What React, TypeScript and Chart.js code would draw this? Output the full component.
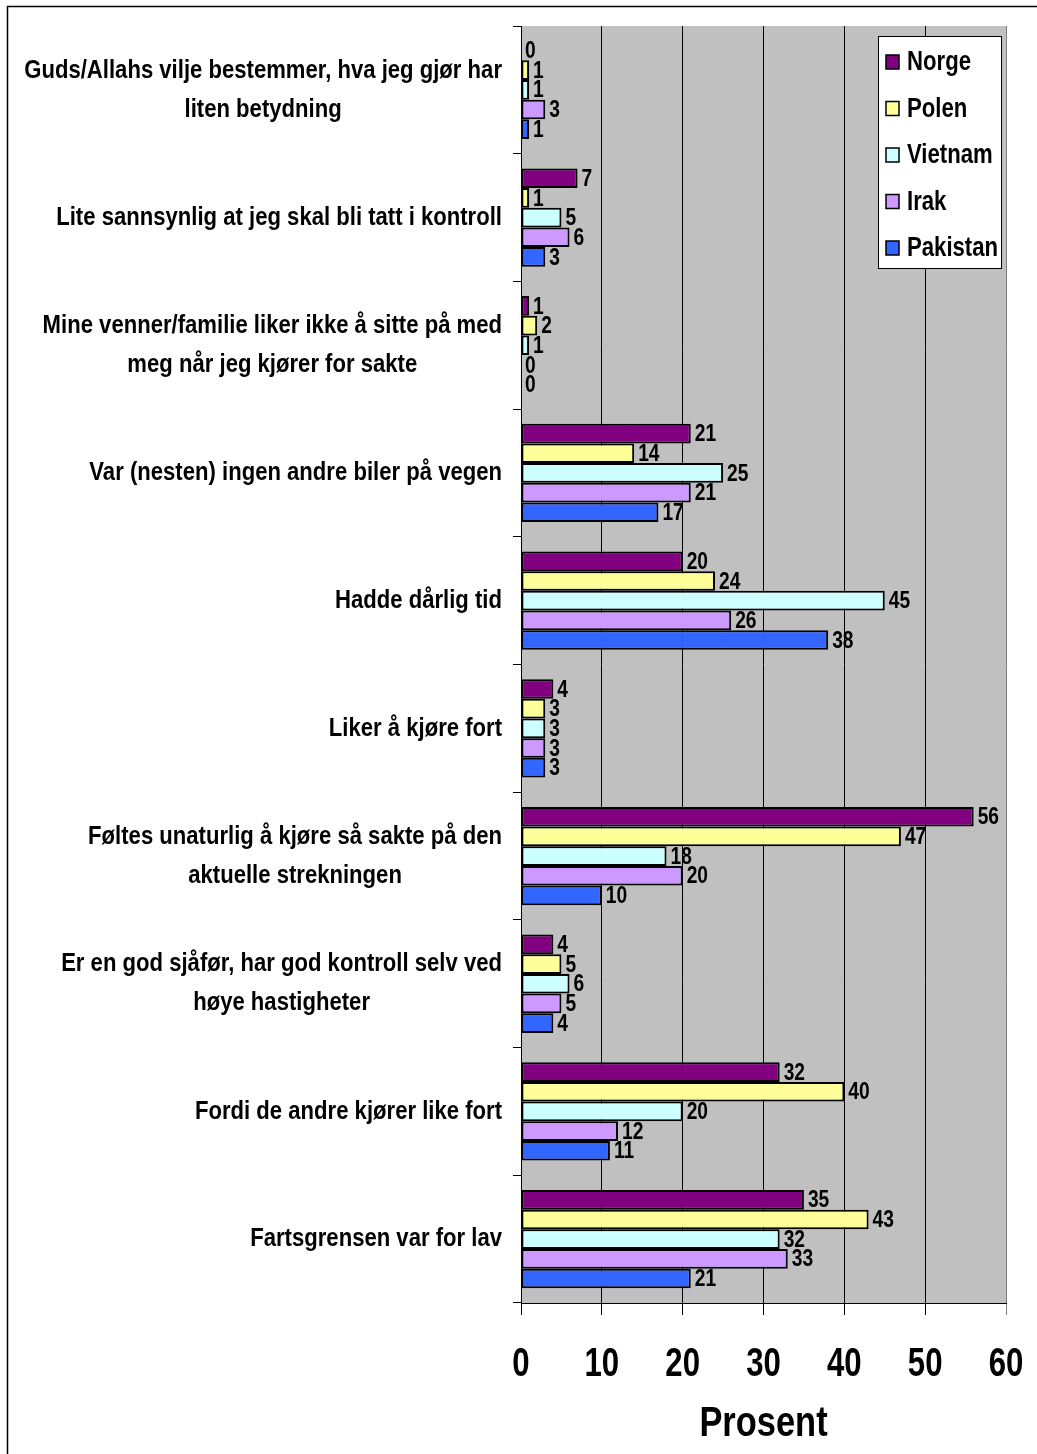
import React, { useEffect, useRef } from "react";
import { Chart, registerables } from "chart.js";

Chart.register(...registerables);

const categories: string[][] = [
  ["Guds/Allahs vilje bestemmer, hva jeg gjør har", "liten betydning"],
  ["Lite sannsynlig at jeg skal bli tatt i kontroll"],
  ["Mine venner/familie liker ikke å sitte på med", "meg når jeg kjører for sakte"],
  ["Var (nesten) ingen andre biler på vegen"],
  ["Hadde dårlig tid"],
  ["Liker å kjøre fort"],
  ["Føltes unaturlig å kjøre så sakte på den", "aktuelle strekningen"],
  ["Er en god sjåfør, har god kontroll selv ved", "høye hastigheter"],
  ["Fordi de andre kjører like fort"],
  ["Fartsgrensen var for lav"],
];

const seriesNames = ["Norge", "Polen", "Vietnam", "Irak", "Pakistan"];
const norge = [0, 7, 1, 21, 20, 4, 56, 4, 32, 35];
const polen = [1, 1, 2, 14, 24, 3, 47, 5, 40, 43];
const vietnam = [1, 5, 1, 25, 45, 3, 18, 6, 20, 32];
const irak = [3, 6, 0, 21, 26, 3, 20, 5, 12, 33];
const pakistan = [1, 3, 0, 17, 38, 3, 10, 4, 11, 21];
const seriesColors = ["#800080", "#FFFF99", "#CCFFFF", "#CC99FF", "#3366FF"];
const xTickValues = [0, 10, 20, 30, 40, 50, 60];
const axisTitle = "Prosent";

const FONT = "'Liberation Sans', Arial, sans-serif";

const W = 1037;
const H = 1454;

function narrowText(ctx: CanvasRenderingContext2D, text: string, x: number, y: number, align: CanvasTextAlign, sx: number) {
  ctx.save();
  ctx.translate(x, y);
  ctx.scale(sx, 1);
  ctx.textAlign = align;
  ctx.fillText(text, 0, 0);
  ctx.restore();
}

export default function App() {
  const ref = useRef<HTMLCanvasElement | null>(null);

  useEffect(() => {
    if (!ref.current) return;
    const values = [norge, polen, vietnam, irak, pakistan];

    const bgPlugin = {
      id: "bg",
      beforeDraw(chart: any) {
        const { ctx, chartArea } = chart;
        ctx.save();
        ctx.fillStyle = "#FFFFFF";
        ctx.fillRect(0, 0, W, H);
        ctx.strokeStyle = "#000";
        ctx.lineWidth = 1.5;
        ctx.beginPath();
        ctx.moveTo(W, 6.5);
        ctx.lineTo(7.5, 6.5);
        ctx.lineTo(7.5, H);
        ctx.stroke();
        ctx.fillStyle = "#C0C0C0";
        ctx.fillRect(chartArea.left, chartArea.top, chartArea.right - chartArea.left, chartArea.bottom - chartArea.top);
        ctx.restore();
      },
    };

    const labelPlugin = {
      id: "labels",
      afterDatasetsDraw(chart: any) {
        const { ctx } = chart;
        ctx.save();
        ctx.fillStyle = "#000";
        ctx.font = `bold 24px ${FONT}`;
        ctx.textBaseline = "middle";
        chart.data.datasets.forEach((ds: any, di: number) => {
          const meta = chart.getDatasetMeta(di);
          meta.data.forEach((el: any, i: number) => {
            narrowText(ctx, String(ds.data[i]), el.x + 4, el.y + 1, "left", 0.8);
          });
        });
        ctx.restore();
      },
      afterDraw(chart: any) {
        const { ctx } = chart;
        const yScale = chart.scales.y;
        const xScale = chart.scales.x;
        ctx.save();
        ctx.fillStyle = "#000";
        ctx.textBaseline = "middle";
        // category labels
        const csx = 0.85;
        ctx.font = `bold 26px ${FONT}`;
        const rightX = 502;
        const lh = 39;
        categories.forEach((lines, i) => {
          const cy = yScale.getPixelForTick(i);
          const maxW = Math.max(...lines.map((l) => ctx.measureText(l).width)) * csx;
          const cx = rightX - maxW / 2;
          const y0 = cy - ((lines.length - 1) * lh) / 2;
          lines.forEach((l, j) => narrowText(ctx, l, cx, y0 + j * lh, "center", csx));
        });
        // x tick labels
        ctx.font = `bold 41px ${FONT}`;
        xTickValues.forEach((v) => {
          narrowText(ctx, String(v), xScale.getPixelForValue(v), 1365, "center", 0.76);
        });
        // axis title
        ctx.font = `bold 42px ${FONT}`;
        narrowText(ctx, axisTitle, (xScale.left + xScale.right) / 2, 1424, "center", 0.82);
        // legend
        const lx = 878, ly = 36, lw = 123, lhh = 232;
        ctx.fillStyle = "#FFFFFF";
        ctx.fillRect(lx, ly, lw, lhh);
        ctx.strokeStyle = "#000";
        ctx.lineWidth = 1;
        ctx.strokeRect(lx + 0.5, ly + 0.5, lw, lhh);
        ctx.font = `bold 27px ${FONT}`;
        seriesNames.forEach((n, i) => {
          const cy = 62 + i * 46.5;
          ctx.fillStyle = seriesColors[i];
          ctx.fillRect(886, cy - 7, 13, 14);
          ctx.strokeStyle = "#000";
          ctx.lineWidth = 1.5;
          ctx.strokeRect(886, cy - 7, 13, 14);
          ctx.fillStyle = "#000";
          narrowText(ctx, n, 907, cy + 1, "left", 0.82);
        });
        ctx.restore();
      },
    };

    const chart = new Chart(ref.current, {
      type: "bar",
      data: {
        labels: categories.map((c) => c.join(" ")),
        datasets: seriesNames.map((n, i) => ({
          label: n,
          data: values[i],
          backgroundColor: seriesColors[i],
          borderColor: "#000",
          borderWidth: (c: any) => (c.raw === 0 ? 0 : 2),
          borderSkipped: false,
          categoryPercentage: 0.77,
          barPercentage: 1,
        })),
      },
      options: {
        indexAxis: "y",
        animation: false,
        responsive: false,
        maintainAspectRatio: false,
        layout: { padding: { left: 0, right: 31, top: 26, bottom: 0 } },
        plugins: {
          legend: { display: false },
          tooltip: { enabled: false },
        },
        scales: {
          y: {
            type: "category",
            ticks: { display: false },
            grid: { drawOnChartArea: false, drawTicks: true, tickLength: 8, color: "#000", offset: true },
            border: { display: true, color: "#000", width: 1 },
            afterFit: (s: any) => {
              s.width = 521;
            },
          },
          x: {
            type: "linear",
            min: 0,
            max: 60,
            afterBuildTicks: (s: any) => {
              s.ticks = xTickValues.map((v) => ({ value: v }));
            },
            ticks: { display: false },
            grid: {
              color: (c: any) => (c.tick && c.tick.value === 60 ? "#808080" : "#000"),
              lineWidth: 1,
              tickLength: 12,
            },
            border: { display: true, color: "#000", width: 1 },
            afterFit: (s: any) => {
              s.height = 151;
            },
          },
        },
      },
      plugins: [bgPlugin, labelPlugin],
    } as any);
    return () => chart.destroy();
  }, []);

  return (
    <div style={{ position: "absolute", left: 0, top: 0, width: W, height: H }}>
      <canvas ref={ref} width={W} height={H} style={{ width: W, height: H, display: "block" }} />
    </div>
  );
}
